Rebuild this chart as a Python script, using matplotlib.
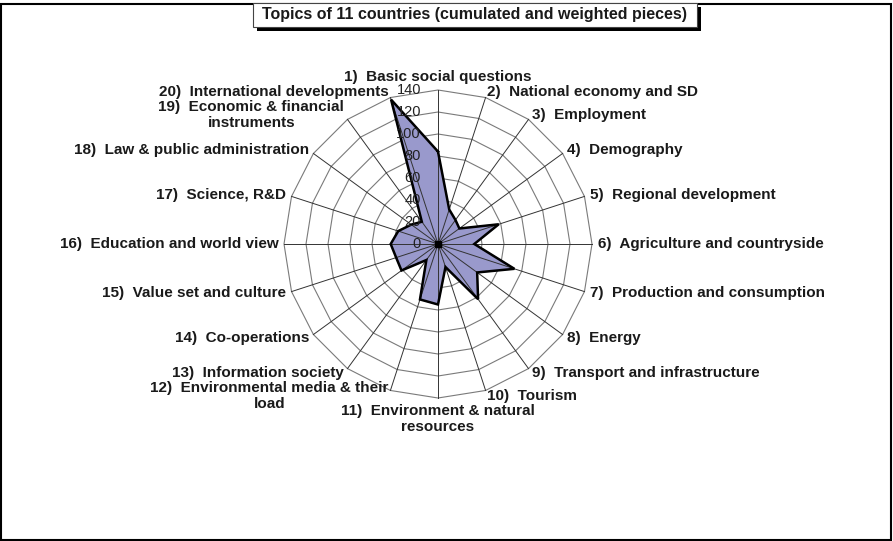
import numpy as np
import matplotlib
matplotlib.use("Agg")
import matplotlib.pyplot as plt
from matplotlib.patches import Rectangle, Polygon

plt.rcParams['font.family'] = ['Liberation Sans', 'DejaVu Sans']

title = "Topics of 11 countries (cumulated and weighted pieces)"

topics = [
    "1)  Basic social questions",
    "2)  National economy and SD",
    "3)  Employment",
    "4)  Demography",
    "5)  Regional development",
    "6)  Agriculture and countryside",
    "7)  Production and consumption",
    "8)  Energy",
    "9)  Transport and infrastructure",
    "10)  Tourism",
    "11)  Environment & natural\nresources",
    "12)  Environmental media & their\nload",
    "13)  Information society",
    "14)  Co-operations",
    "15)  Value set and culture",
    "16)  Education and world view",
    "17)  Science, R&D",
    "18)  Law & public administration",
    "19)  Economic & financial\ninstruments",
    "20)  International developments",
]
values = [84, 33, 27, 24, 58, 33, 73, 44, 62, 22,
          55, 53, 18, 41, 40, 43, 38, 30, 25, 138]
ticks = [0, 20, 40, 60, 80, 100, 120, 140]

W, H = 893, 541
cx, cy = 438, 244          # radar centre in pixels
px_per_unit = 154 / 140

fig = plt.figure(figsize=(W / 100, H / 100), dpi=100)
ax = fig.add_axes([0, 0, 1, 1])
ax.set_xlim(-cx / px_per_unit, (W - cx) / px_per_unit)
ax.set_ylim(-(H - cy) / px_per_unit, cy / px_per_unit)
ax.axis("off")

n = len(topics)
ang = np.deg2rad(np.arange(n) * 360 / n)   # clockwise from top
dx, dy = np.sin(ang), np.cos(ang)
rmax = ticks[-1]

# polygonal rings
for t in ticks[1:]:
    ax.add_patch(Polygon(np.column_stack([t * dx, t * dy]), closed=True,
                         fill=False, ec="#7a7a7a", lw=0.8, zorder=1))

# data area
vals = np.array(values)
ax.fill(vals * dx, vals * dy, color="#9999cc", zorder=2)

# spokes
for x, y in zip(dx, dy):
    ax.plot([0, rmax * x], [0, rmax * y], color="#333333", lw=0.7, zorder=3)

ax.plot(np.append(vals * dx, vals[0] * dx[0]), np.append(vals * dy, vals[0] * dy[0]),
        color="black", lw=1.8, zorder=4, solid_joinstyle="miter")
ax.plot([0], [0], marker="s", ms=5, color="black", zorder=5)

# value ticks along the first axis
for t in ticks:
    ax.text(-15.5, t, str(t), ha="right", va="center", fontsize=10.5,
            color="#222222", zorder=6)

# category labels
rl = 145
for lab, x, y in zip(topics, dx, dy):
    if x > 0.05:
        ha = "left"
    elif x < -0.05:
        ha = "right"
    else:
        ha = "center"
    if abs(x) < 0.05:
        va = "bottom" if y > 0 else "top"
    else:
        va = "center"
    ax.text(rl * x, rl * y, lab, ha=ha, va=va, fontsize=11, fontweight="bold",
            multialignment="center", linespacing=1.2, color="#1a1a1a")

# figure frame
fig.patches.append(Rectangle((1 / W, 1 / H), (W - 3) / W, (H - 5) / H,
                             transform=fig.transFigure, fill=False,
                             ec="black", lw=1.5))

# title box with shadow
bx0, bx1, by0, by1 = 253, 697, 3, 27
fig.patches.append(Rectangle(((bx0 + 4) / W, 1 - (by1 + 4) / H),
                             (bx1 - bx0) / W, (by1 - by0) / H,
                             transform=fig.transFigure, fc="black", ec="none"))
fig.patches.append(Rectangle((bx0 / W, 1 - by1 / H), (bx1 - bx0) / W,
                             (by1 - by0) / H, transform=fig.transFigure,
                             fc="white", ec="#444444", lw=0.8))
fig.text((bx0 + bx1) / 2 / W, 1 - (by0 + by1) / 2 / H, title, ha="center",
         va="center", fontsize=11.5, fontweight="bold", color="#1a1a1a")

fig.savefig("out.png", dpi=100)
